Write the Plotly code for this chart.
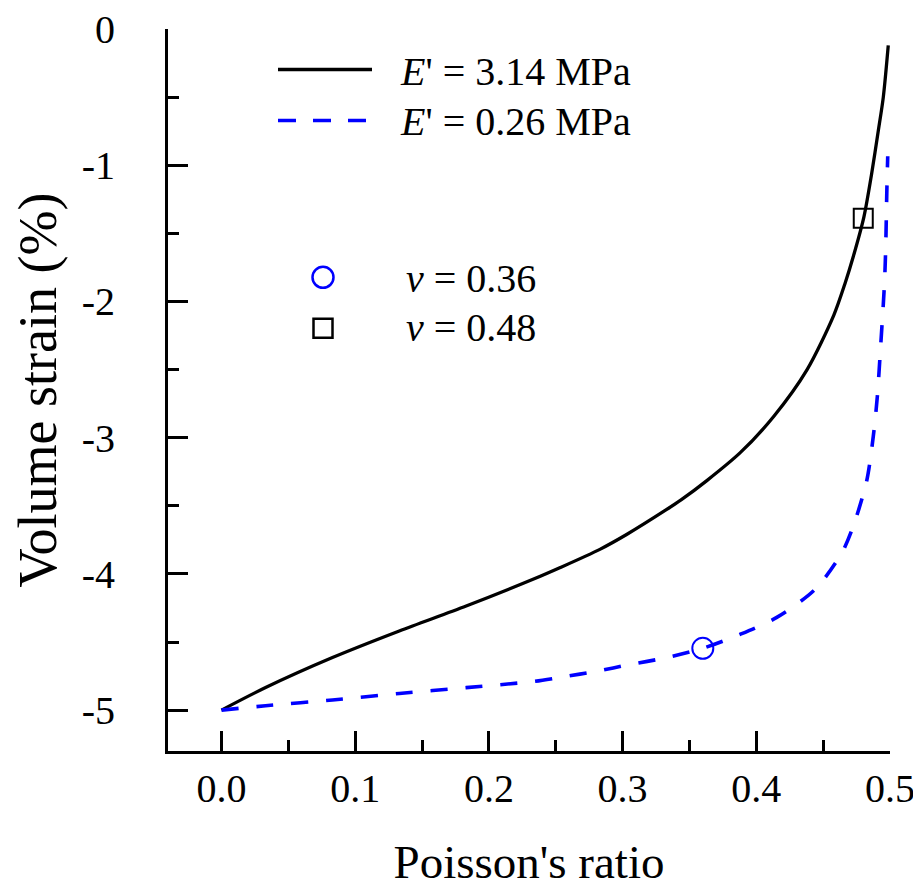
import plotly.graph_objects as go

# ---------------- data ----------------
series_names = ["E' = 3.14 MPa", "E' = 0.26 MPa"]

nu_stiff = [0.000, 0.033, 0.083, 0.133, 0.183, 0.233, 0.253, 0.283, 0.303, 0.333,
            0.344, 0.363, 0.388, 0.413, 0.438, 0.458, 0.4663, 0.4725, 0.4805,
            0.4863, 0.4913, 0.495, 0.4987]
strain_stiff = [-5.000, -4.834, -4.614, -4.419, -4.236, -4.040, -3.955, -3.820, -3.711, -3.527,
                -3.455, -3.315, -3.110, -2.844, -2.500, -2.100, -1.870, -1.672, -1.379,
                -1.061, -0.744, -0.500, -0.121]

nu_soft = [0.000, 0.033, 0.083, 0.133, 0.183, 0.233, 0.253, 0.283, 0.303, 0.333,
           0.360, 0.388, 0.415, 0.444, 0.464, 0.4725, 0.4825, 0.4875, 0.4905,
           0.493, 0.4950, 0.4960, 0.4968, 0.4976, 0.4983]
strain_soft = [-5.000, -4.968, -4.925, -4.878, -4.835, -4.790, -4.760, -4.710, -4.670, -4.614,
               -4.546, -4.443, -4.321, -4.113, -3.845, -3.650, -3.320, -2.990, -2.700,
               -2.330, -2.020, -1.840, -1.600, -1.205, -0.934]

point_labels = ["ν = 0.36", "ν = 0.48"]
point_nu = [0.36, 0.48]
point_strain = [-4.546, -1.39]

x_tickvals = [0.0, 0.1, 0.2, 0.3, 0.4, 0.5]
x_ticktext = ["0.0", "0.1", "0.2", "0.3", "0.4", "0.5"]
x_minor = [-0.05, 0.05, 0.15, 0.25, 0.35, 0.45]
y_tickvals = [0, -1, -2, -3, -4, -5]
y_ticktext = ["0", "-1", "-2", "-3", "-4", "-5"]
y_minor = [-0.5, -1.5, -2.5, -3.5, -4.5]

# ---------------- figure ----------------
FONT = "Liberation Serif, Times New Roman, serif"
BLUE = "#0000ff"

fig = go.Figure()
fig.add_trace(go.Scatter(x=nu_stiff, y=strain_stiff, mode="lines", name=series_names[0],
                         line=dict(color="black", width=3.3, shape="spline", smoothing=0.8),
                         showlegend=False))
fig.add_trace(go.Scatter(x=nu_soft, y=strain_soft, mode="lines", name=series_names[1],
                         line=dict(color=BLUE, width=3.6, dash="17px,18px", shape="spline", smoothing=0.8),
                         showlegend=False))
fig.add_trace(go.Scatter(x=[point_nu[0]], y=[point_strain[0]], mode="markers", name=point_labels[0],
                         marker=dict(symbol="circle-open", size=21, color=BLUE,
                                     line=dict(width=2, color=BLUE)), showlegend=False))
fig.add_trace(go.Scatter(x=[point_nu[1]], y=[point_strain[1]], mode="markers", name=point_labels[1],
                         marker=dict(symbol="square-open", size=19, color="black",
                                     line=dict(width=2, color="black")), showlegend=False))

# page body has an 8px margin: compensate so the plot lands where the reference has it
OFF = 8
W, H = 921, 888
L, R, T, B = 168 - OFF, 890 - OFF, 28.5 - OFF, 751 - OFF   # plot area (figure pixels)

def px(xp):  # screen pixel x -> paper
    return (xp - OFF - L) / (R - L)
def py(yp):  # screen pixel y -> paper
    return (B - (yp - OFF)) / (B - T)

shapes = []
annotations = []
LEG_FONT = dict(family=FONT, size=40, color="black")
# legend block 1 (lines)
shapes.append(dict(type="line", xref="paper", yref="paper", x0=px(278), x1=px(372), y0=py(69), y1=py(69),
                   line=dict(color="black", width=3.5)))
shapes.append(dict(type="line", xref="paper", yref="paper", x0=px(278), x1=px(370), y0=py(120), y1=py(120),
                   line=dict(color=BLUE, width=3.6, dash="18px,17px")))
annotations.append(dict(xref="paper", yref="paper", x=px(398), y=py(71), xanchor="left", yanchor="middle",
                        text="<i>E</i>' = 3.14 MPa", showarrow=False, font=LEG_FONT))
annotations.append(dict(xref="paper", yref="paper", x=px(398), y=py(121), xanchor="left", yanchor="middle",
                        text="<i>E</i>' = 0.26 MPa", showarrow=False, font=LEG_FONT))
# legend block 2 (markers)
shapes.append(dict(type="circle", xref="paper", yref="paper", x0=px(323 - 10.5), x1=px(323 + 10.5),
                   y0=py(277 + 10.5), y1=py(277 - 10.5), line=dict(color=BLUE, width=2.5)))
shapes.append(dict(type="rect", xref="paper", yref="paper", x0=px(323 - 9.5), x1=px(323 + 9.5),
                   y0=py(328 + 9.5), y1=py(328 - 9.5), line=dict(color="black", width=2.5)))
annotations.append(dict(xref="paper", yref="paper", x=px(404), y=py(278), xanchor="left", yanchor="middle",
                        text="<i>ν</i> = 0.36", showarrow=False, font=LEG_FONT))
annotations.append(dict(xref="paper", yref="paper", x=px(404), y=py(327), xanchor="left", yanchor="middle",
                        text="<i>ν</i> = 0.48", showarrow=False, font=LEG_FONT))

axis_common = dict(showline=True, linewidth=3, linecolor="black", mirror=False,
                   ticks="inside", ticklen=20, tickwidth=3, tickcolor="black",
                   showgrid=False, zeroline=False, automargin=False,
                   ticklabeloverflow="allow",
                   tickfont=dict(family=FONT, size=40, color="black"))

fig.update_layout(
    width=W, height=H,
    margin=dict(l=L, r=W - R, t=T, b=H - B),
    paper_bgcolor="white", plot_bgcolor="white",
    shapes=shapes, annotations=annotations,
    xaxis=dict(range=[-0.04, 0.5], tickvals=x_tickvals, ticktext=x_ticktext,
               minor=dict(ticks="inside", ticklen=11, tickwidth=3, tickcolor="black", tickvals=x_minor),
               ticklabelstandoff=0,
               title=dict(text="Poisson's ratio", font=dict(family=FONT, size=47, color="black"), standoff=36),
               **axis_common),
    yaxis=dict(range=[-5.3, 0], tickvals=y_tickvals, ticktext=y_ticktext,
               minor=dict(ticks="inside", ticklen=11, tickwidth=3, tickcolor="black", tickvals=y_minor),
               ticklabelstandoff=42,
               title=dict(text="Volume strain (%)", font=dict(family=FONT, size=54, color="black"), standoff=20),
               **axis_common),
)

fig.write_html("out.html")
